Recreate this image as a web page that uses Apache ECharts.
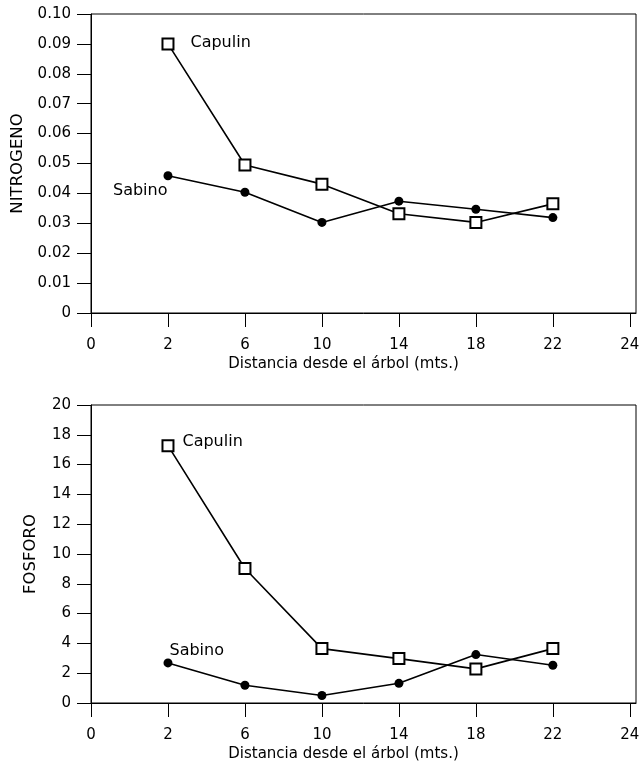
<!DOCTYPE html>
<html>
<head>
<meta charset="utf-8">
<script src="https://cdn.jsdelivr.net/npm/echarts@6/dist/echarts.min.js"></script>
<style>
  html, body { margin: 0; padding: 0; background: #fff; }
  #main { width: 640px; height: 761px; }
</style>
</head>
<body>
<div id="main"></div>
<script>
  // tick labels on the x axis (equally spaced, not linear)
  var xLabels = ['0', '2', '6', '10', '14', '18', '22', '24']
  var distancias = ['2', '6', '10', '14', '18', '22']

  var nitroCapulin = [0.0900, 0.0495, 0.0431, 0.0332, 0.0303, 0.0365]
  var nitroSabino = [0.0459, 0.0404, 0.0303, 0.0374, 0.0347, 0.0319]
  var fosCapulin = [17.27, 9.03, 3.65, 2.98, 2.29, 3.65]
  var fosSabino = [2.69, 1.19, 0.50, 1.32, 3.25, 2.53]

  var font = '"DejaVu Sans", sans-serif'
  var tickIdx = xLabels.map(function (l, i) { return i })

  function pares(valores) {
    return distancias.map(function (d, i) {
      return [xLabels.indexOf(d), valores[i]]
    })
  }

  function xAxisDef(gridIndex) {
    return {
      type: 'value',
      gridIndex: gridIndex,
      min: 0,
      max: 7.08,
      name: 'Distancia desde el árbol (mts.)',
      nameLocation: 'middle',
      nameGap: 44,
      nameTextStyle: { color: '#000', fontSize: 15, fontFamily: font, padding: [0, 40, 0, 0] },
      splitLine: { show: false },
      axisLine: { lineStyle: { color: '#000', width: 1 } },
      axisTick: { customValues: tickIdx, length: 14, lineStyle: { color: '#000' } },
      axisLabel: {
        customValues: tickIdx,
        margin: 25,
        color: '#000',
        fontSize: 15,
        fontFamily: font,
        formatter: function (v) { return xLabels[Math.round(v)] }
      }
    }
  }

  function yAxisDef(gridIndex, nombre, max, interval, gap, fmt) {
    return {
      type: 'value',
      gridIndex: gridIndex,
      min: 0,
      max: max,
      interval: interval,
      name: nombre,
      nameLocation: 'middle',
      nameGap: gap,
      nameTextStyle: { color: '#000', fontSize: 16.5, fontFamily: font },
      splitLine: { show: false },
      axisLine: { show: true, lineStyle: { color: '#000', width: 1 } },
      axisTick: { length: 14, lineStyle: { color: '#000' } },
      axisLabel: { margin: 20, color: '#000', fontSize: 15, fontFamily: font, formatter: fmt }
    }
  }

  function serie(idx, datos, tipo, etiqueta, lbl) {
    var pts = pares(datos)
    var d0 = { value: pts[0], label: Object.assign({ show: true, formatter: etiqueta, color: '#000', fontSize: 16, fontFamily: font }, lbl) }
    var esCuadro = tipo === 'cuadro'
    return {
      type: 'line',
      xAxisIndex: idx,
      yAxisIndex: idx,
      data: [d0].concat(pts.slice(1)),
      symbol: esCuadro ? 'rect' : 'circle',
      symbolSize: esCuadro ? 11 : 9,
      showAllSymbol: true,
      lineStyle: { color: '#000', width: 1.6 },
      itemStyle: esCuadro ? { color: '#fff', borderColor: '#000', borderWidth: 2 } : { color: '#000', borderWidth: 0 },
      z: esCuadro ? 3 : 2,
      animation: false,
      emphasis: { disabled: true }
    }
  }

  var chart = echarts.init(document.getElementById('main'))
  chart.setOption({
    backgroundColor: '#fff',
    animation: false,
    grid: [
      { left: 91, top: 14, right: 4, height: 299, show: true, borderColor: '#000', borderWidth: 1, outerBoundsMode: 'none', containLabel: false },
      { left: 91, top: 405, right: 4, height: 298, show: true, borderColor: '#000', borderWidth: 1, outerBoundsMode: 'none', containLabel: false }
    ],
    xAxis: [xAxisDef(0), xAxisDef(1)],
    yAxis: [
      yAxisDef(0, 'NITROGENO', 0.1, 0.01, 64, function (v) { return v === 0 ? '0' : v.toFixed(2) }),
      yAxisDef(1, 'FOSFORO', 20, 2, 52, function (v) { return String(v) })
    ],
    series: [
      serie(0, nitroCapulin, 'cuadro', 'Capulin', { position: 'right', distance: 16, offset: [0, -1] }),
      serie(0, nitroSabino, 'punto', 'Sabino', { position: 'left', distance: 0, offset: [4, 15] }),
      serie(1, fosCapulin, 'cuadro', 'Capulin', { position: 'right', distance: 8, offset: [0, -4] }),
      serie(1, fosSabino, 'punto', 'Sabino', { position: 'right', distance: 0, offset: [-3, -12] })
    ]
  })
</script>
</body>
</html>
